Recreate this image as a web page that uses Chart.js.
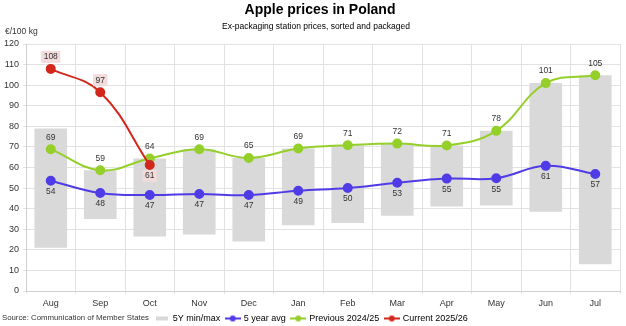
<!DOCTYPE html>
<html><head><meta charset="utf-8">
<script src="https://cdn.jsdelivr.net/npm/chart.js@4.4.0/dist/chart.umd.min.js"></script>
<style>html,body{margin:0;padding:0;background:#fff}#wrap{width:626px;height:326px;position:relative}</style>
</head><body><div id="wrap"><canvas id="c"></canvas></div>
<script>
const months = ['Aug','Sep','Oct','Nov','Dec','Jan','Feb','Mar','Apr','May','Jun','Jul'];
const fiveYearMin = [21, 35, 26.5, 27.5, 24, 32, 33, 36.5, 41, 41.5, 38.5, 13];
const fiveYearMax = [79, 58.7, 64.4, 68.9, 64.6, 69.2, 70.8, 71.6, 70.7, 77.8, 101, 104.8];
const fiveYearAvg = [53.6, 47.6, 46.6, 47.1, 46.6, 48.7, 50.0, 52.6, 54.6, 54.8, 60.8, 56.8];
const previous = [68.9, 58.7, 64.4, 68.9, 64.6, 69.2, 70.8, 71.6, 70.7, 77.8, 101.0, 104.8];
const current = [107.9, 96.6, 61.2, null, null, null, null, null, null, null, null, null];
const yTicks = [0, 10, 20, 30, 40, 50, 60, 70, 80, 90, 100, 110, 120];

const FONT = '"Liberation Sans", Arial, sans-serif';
const TXT = '#333333';
const RED = '#d2281b', GREEN = '#95cf2a', BLUE = '#4f3ce6', GRAY = '#d9d9d9';

function lineMarker(color){
  const c = document.createElement('canvas'); c.width = 16; c.height = 8;
  const x = c.getContext('2d');
  x.strokeStyle = color; x.lineWidth = 2;
  x.beginPath(); x.moveTo(0,4); x.lineTo(16,4); x.stroke();
  x.fillStyle = color; x.beginPath(); x.arc(8,4,3,0,Math.PI*2); x.fill();
  return c;
}
function barMarker(){
  const c = document.createElement('canvas'); c.width = 12; c.height = 8;
  const x = c.getContext('2d');
  x.fillStyle = GRAY; x.fillRect(0,2,12,4);
  return c;
}

const textPlugin = {
  id: 'texts',
  afterDraw(chart){
    const ctx = chart.ctx;
    ctx.save();
    ctx.fillStyle = '#000';
    ctx.textAlign = 'center'; ctx.textBaseline = 'middle';
    ctx.font = 'bold 14px ' + FONT;
    ctx.fillText('Apple prices in Poland', 320, 10);
    ctx.font = '8.5px ' + FONT;
    ctx.fillText('Ex-packaging station prices, sorted and packaged', 316, 27);
    ctx.fillStyle = TXT;
    ctx.textAlign = 'left';
    ctx.fillText('€/100 kg', 5, 32);
    ctx.font = '7.8px ' + FONT;
    ctx.fillText('Source: Communication of Member States', 2, 318);
    ctx.restore();
  }
};

const labelPlugin = {
  id: 'dlabels',
  afterDatasetsDraw(chart){
    const ctx = chart.ctx;
    ctx.save();
    ctx.font = '8.5px ' + FONT;
    ctx.textAlign = 'center'; ctx.textBaseline = 'middle';
    chart.data.datasets.forEach((ds, i) => {
      if (!ds.labelPos) return;
      const meta = chart.getDatasetMeta(i);
      meta.data.forEach((pt, j) => {
        const v = ds.data[j];
        if (v === null || v === undefined) return;
        const pos = Array.isArray(ds.labelPos) ? ds.labelPos[j] : ds.labelPos;
        const y = pos === 'above' ? pt.y - 12 : pt.y + 11;
        const t = String(Math.round(v));
        if (ds.labelBg) {
          const w = ctx.measureText(t).width + 5;
          ctx.fillStyle = ds.labelBg;
          ctx.fillRect(pt.x - w/2, y - 6, w, 12);
        }
        ctx.fillStyle = TXT;
        ctx.fillText(t, pt.x, y);
      });
    });
    ctx.restore();
  }
};

const barData = fiveYearMin.map((v, i) => [v, fiveYearMax[i]]);

new Chart(document.getElementById('c'), {
  type: 'bar',
  data: {
    labels: months,
    datasets: [
      { type: 'bar', label: '5Y min/max', data: barData, backgroundColor: GRAY,
        barPercentage: 0.66, categoryPercentage: 1, order: 4 },
      { type: 'line', label: '5 year avg', data: fiveYearAvg, borderColor: BLUE, backgroundColor: BLUE,
        borderWidth: 2, pointRadius: 4, tension: 0.4, order: 3, labelPos: 'below' },
      { type: 'line', label: 'Previous 2024/25', data: previous, borderColor: GREEN, backgroundColor: GREEN,
        borderWidth: 2, pointRadius: 4, tension: 0.4, order: 2, labelPos: 'above' },
      { type: 'line', label: 'Current 2025/26', data: current, borderColor: RED, backgroundColor: RED,
        borderWidth: 2, pointRadius: 4, tension: 0.4, order: 1,
        labelPos: ['above','above','below'], labelBg: '#f2dcdb' }
    ]
  },
  options: {
    responsive: true, maintainAspectRatio: false, animation: false,
    layout: { padding: { top: 44, right: 3, left: 0, bottom: -7 } },
    scales: {
      x: {
        grid: { color: '#e2e2e2', offset: true, tickLength: 3 },
        border: { color: '#d0d0d0' },
        ticks: { color: TXT, font: { family: FONT, size: 9 }, padding: 4, maxRotation: 0 },
        afterFit(s){ s.height = 17; }
      },
      y: {
        min: 0, max: 120,
        afterBuildTicks(s){ s.ticks = yTicks.map(v => ({ value: v })); },
        grid: { color: '#e2e2e2', tickLength: 3 },
        border: { color: '#d0d0d0' },
        ticks: { color: TXT, font: { family: FONT, size: 9 }, padding: 4 },
        afterFit(s){ s.width = 26; }
      }
    },
    plugins: {
      title: { display: false },
      tooltip: { enabled: false },
      legend: {
        position: 'bottom',
        labels: {
          usePointStyle: true, pointStyleWidth: 13, padding: 6,
          color: TXT, font: { family: FONT, size: 9 },
          generateLabels(chart){
            const markers = [barMarker(), lineMarker(BLUE), lineMarker(GREEN), lineMarker(RED)];
            return chart.data.datasets.map((ds, i) => ({
              text: ds.label, pointStyle: markers[i], datasetIndex: i,
              fillStyle: 'transparent', strokeStyle: 'transparent', lineWidth: 0, hidden: false
            }));
          }
        }
      }
    }
  },
  plugins: [textPlugin, labelPlugin]
});
</script>
</body></html>
